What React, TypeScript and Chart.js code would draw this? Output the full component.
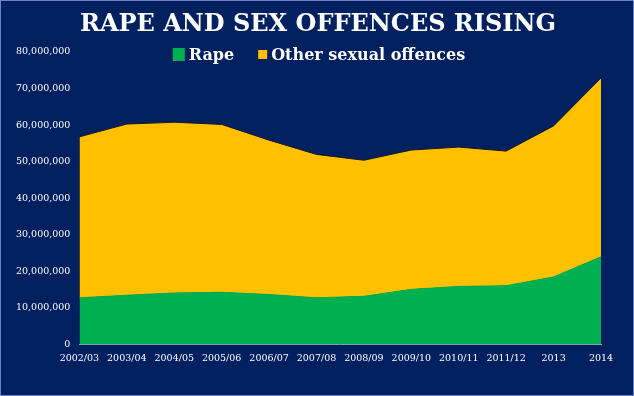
import React, { useEffect, useRef } from "react";
import { Chart, registerables } from "chart.js";

Chart.register(...registerables);

const categories = [
  "2002/03", "2003/04", "2004/05", "2005/06", "2006/07", "2007/08",
  "2008/09", "2009/10", "2010/11", "2011/12", "2013", "2014",
];
const rape = [
  12800000, 13500000, 14100000, 14300000, 13700000, 12800000,
  13200000, 15100000, 15900000, 16100000, 18500000, 24000000,
];
const otherSexualOffences = [
  44000000, 46800000, 46700000, 45900000, 42200000, 39200000,
  37200000, 38100000, 38100000, 36800000, 41300000, 48900000,
];
const yTickValues = [0, 10000000, 20000000, 30000000, 40000000, 50000000, 60000000, 70000000, 80000000];
const titleText = "RAPE AND SEX OFFENCES RISING";
const seriesLabels = ["Rape", "Other sexual offences"];

const NAVY = "#002060";
const GREEN = "#00B050";
const YELLOW = "#FFC000";

// Centre the title on the whole canvas rather than on the padded layout box
const centerTitlePlugin = {
  id: "centerTitle",
  afterLayout(chart: any) {
    const t = chart.titleBlock;
    if (t) {
      t.left = 0;
      t.right = chart.width + 2;
      t.width = t.right - t.left;
    }
  },
};

const legendPlugin = {
  id: "customLegend",
  afterDraw(chart: any) {
    const ctx = chart.ctx;
    const boxSizes = [[12, 13], [9, 9]];
    ctx.save();
    ctx.font = 'bold 16px "DejaVu Serif"';
    ctx.textBaseline = "alphabetic";
    const ds = chart.data.datasets;
    const gapBoxText = 4;
    const gapItems = 24;
    let total = 0;
    ds.forEach((d: any, i: number) => {
      total += boxSizes[i][0] + gapBoxText + ctx.measureText(d.label).width;
      if (i < ds.length - 1) total += gapItems;
    });
    let x = chart.width / 2 + 2 - total / 2;
    const baseline = 60;
    ds.forEach((d: any, i: number) => {
      const [bw, bh] = boxSizes[i];
      ctx.fillStyle = d.backgroundColor;
      ctx.fillRect(x, 54.5 - bh / 2, bw, bh);
      x += bw + gapBoxText;
      ctx.fillStyle = "#ffffff";
      ctx.fillText(d.label, x, baseline);
      x += ctx.measureText(d.label).width + gapItems;
    });
    ctx.restore();
  },
};

export default function App() {
  const canvasRef = useRef<HTMLCanvasElement | null>(null);

  useEffect(() => {
    const canvas = canvasRef.current;
    if (!canvas) return;
    const chart = new Chart(canvas, {
      type: "line",
      data: {
        labels: categories,
        datasets: [
          {
            label: seriesLabels[0],
            data: rape,
            backgroundColor: GREEN,
            borderColor: GREEN,
            borderWidth: 1,
            fill: "origin",
            pointRadius: 0,
            tension: 0,
          },
          {
            label: seriesLabels[1],
            data: otherSexualOffences,
            backgroundColor: YELLOW,
            borderColor: "#1a1a1a",
            borderWidth: 1,
            fill: "-1",
            pointRadius: 0,
            tension: 0,
          },
        ],
      },
      options: {
        responsive: false,
        animation: false,
        devicePixelRatio: 1,
        layout: { padding: { left: 7, right: 33, top: 0, bottom: 24 } },
        plugins: {
          legend: { display: false },
          tooltip: { enabled: false },
          title: {
            display: true,
            text: titleText,
            color: "#ffffff",
            font: { family: '"DejaVu Serif"', size: 24, weight: "bold", lineHeight: 1.2 },
            padding: { top: 10, bottom: 13.2 },
          },
        },
        scales: {
          x: {
            type: "category",
            offset: false,
            grid: { display: false, drawTicks: false },
            border: { display: true, color: "#9aa6b4", width: 1 },
            ticks: {
              color: "#ffffff",
              font: { family: '"DejaVu Serif"', size: 9.5 },
              padding: 8,
              maxRotation: 0,
              autoSkip: false,
            },
          },
          y: {
            stacked: true,
            min: 0,
            max: 80000000,
            afterBuildTicks: (scale: any) => {
              scale.ticks = yTickValues.map((v) => ({ value: v }));
            },
            grid: { display: false, drawTicks: false },
            border: { display: false },
            ticks: {
              color: "#ffffff",
              font: { family: '"DejaVu Serif"', size: 9.5 },
              padding: 9,
              callback: (v: any) => Number(v).toLocaleString("en-US"),
            },
          },
        },
      },
      plugins: [centerTitlePlugin, legendPlugin],
    });
    return () => chart.destroy();
  }, []);

  return (
    <div
      style={{
        position: "absolute",
        left: 0,
        top: 0,
        width: 634,
        height: 396,
        background: NAVY,
        overflow: "hidden",
      }}
    >
      <canvas ref={canvasRef} width={634} height={396} style={{ display: "block" }} />
      <div
        style={{
          position: "absolute",
          left: 0,
          top: 0,
          width: 634,
          height: 396,
          boxSizing: "border-box",
          border: "1px solid #6f80c4",
          pointerEvents: "none",
        }}
      />
    </div>
  );
}
